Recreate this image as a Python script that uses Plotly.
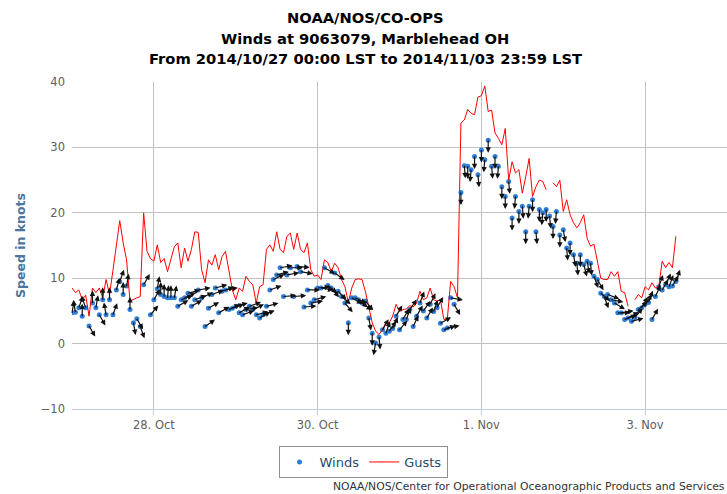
import math
import pandas as pd
import plotly.graph_objects as go

START = "2014-10-27 00:00"

gusts = [
    8.5, 7.8, 8.2, 6.7, 7.4, 4.2, 8.5, 7.8, 8.5, 7.0,
    9.8, 7.5, 11.2, 14.9, 18.8, 15.4, 12.8, 6.5, 6.8, 7.0,
    7.2, 20.0, 14.1, 13.0, 12.6, 15.1, 12.4, 13.0, 11.0, 13.0,
    14.8, 15.4, 11.6, 14.6, 12.6, 14.4, 17.1, 17.0, 11.3, 9.3,
    12.8, 12.0, 13.6, 11.3, 13.3, 14.1, 11.0, 8.2, 6.7, 8.5,
    8.0, 10.3, 9.5, 9.0, 6.2, 8.7, 9.0, 14.4, 15.1, 14.1,
    17.1, 14.4, 13.9, 16.4, 16.9, 14.4, 16.9, 14.4, 13.9, 15.4,
    11.3, 10.3, 10.5, 9.8, 12.8, 12.4, 11.0, 12.3, 11.6, 9.8,
    8.7, 6.3, 8.5, 9.8, 9.9, 9.8, 8.0, 5.7, 3.2, 1.9,
    1.4, 2.1, 3.2, 3.2, 4.2, 6.0, 4.9, 5.2, 5.3, 5.8,
    5.6, 6.2, 8.0, 6.7, 7.0, 8.5, 6.7, 6.5, 6.7, 3.7,
    3.7, 9.5, 8.7, 7.0, 33.7, 34.2, 35.8, 35.2, 35.0, 37.7,
    37.9, 39.4, 35.5, 35.7, 32.2, 31.4, 30.4, 32.9, 25.0, 27.8,
    26.1, 26.6, 23.0, 25.5, 28.3, 22.5, 24.0, 25.0, 24.8, 23.5,
    None, 24.6, 24.0, 25.0, 20.2, 22.0, 19.7, 18.5, 17.7, 18.5,
    19.7, 16.1, 14.9, 15.2, 12.8, 10.0, 9.8, 9.8, 11.0, 10.3,
    11.0, 8.0, 7.8, 5.7, None, 6.7, 7.5, 7.0, 8.7, 8.2,
    9.3, 8.5, 8.7, 12.6, 11.6, 12.4, 11.6, 16.4,
]

winds = [
    4.7, 4.8, 5.5, 4.2, 5.5, 2.7, 6.2, 5.5, 4.4, 6.7,
    4.4, 6.7, 4.4, 8.2, 9.5, 7.5, 8.8, 5.2, 3.2, 3.8,
    2.6, 9.0, None, 4.4, 6.7, 8.4, 7.5, 7.2, 7.0, 7.0,
    7.0, 5.7, 6.7, 7.0, 7.7, 5.7, 6.7, 8.2, 7.0, 2.6,
    5.4, 7.5, 8.5, 4.7, 8.0, 8.2, 5.2, 5.4, 5.7, 4.7,
    4.4, 5.2, 5.7, 5.2, 4.4, 3.9, 4.4, 5.7, 8.2, 9.8,
    10.5, 11.6, 7.2, 10.5, 11.6, 7.2, 11.8, 11.0, 5.6, 8.2,
    6.2, 6.7, 8.5, 8.5, 11.6, 8.9, 8.5, 10.8, 8.0, 7.2,
    6.2, 3.2, 7.0, 7.0, 6.7, 6.2, 6.5, 3.9, 1.6, 0.1,
    1.0, 2.1, 1.6, 1.9, 2.3, 4.2, 2.1, 3.7, 3.7, 5.2,
    2.6, 4.2, 6.2, 5.0, 3.9, 6.0, 4.9, 5.5, 3.1, 2.1,
    2.4, 7.0, 6.0, None, 23.1, 27.2, 27.1, 26.6, 28.6, 25.8,
    29.6, 28.1, 31.1, 27.1, 28.6, 27.1, 24.0, 22.5, 24.8, 19.2,
    22.5, 20.2, 21.0, 17.1, 21.0, 22.0, 17.1, 20.5, 20.0, 20.5,
    19.5, 17.9, 20.2, 16.6, 17.4, 14.6, 15.4, 13.6, 12.3, 13.6,
    12.1, 12.6, 12.3, 10.3, 9.8, 7.7, 7.2, 7.5, 6.7, 6.2,
    4.7, 4.7, 3.7, 3.9, 3.4, 4.0, 5.2, 5.5, 6.0, 6.3,
    3.7, 7.2, 8.7, 8.2, 9.0, 8.7, 8.8, 9.5,
]

# direction the wind blows toward, degrees clockwise from north
directions = [
    10, 350, 20, 0, 340, 150, 0, 10, 150, 0,
    350, 0, 20, 15, 20, 0, 10, 0, 170, 150,
    160, 30, None, 40, 30, 10, 0, 0, 5, 0,
    10, 60, 70, 65, 75, 60, 70, 80, 65, 55,
    60, 70, 75, 60, 70, 80, 65, 70, 75, 60,
    70, 80, 70, 65, 75, 60, 70, 75, 70, 65,
    75, 80, 85, 80, 90, 85, 95, 100, 85, 90,
    80, 75, 85, 100, 120, 130, 140, 125, 135, 130,
    140, 180, 120, 115, 130, 125, 140, 170, 180, 190,
    175, 30, 20, 35, 25, 30, 40, 30, 20, 35,
    25, 30, 20, 35, 30, 25, 20, 30, 60, 70,
    80, 100, 150, None, 180, 175, 180, 185, 180, 175,
    180, 185, 180, 175, 180, 185, 180, 180, 175, 180,
    185, 180, 175, 180, 185, 180, 175, 180, 185, 180,
    175, 180, 185, 180, 170, 175, 180, 170, 175, 180,
    165, 170, 175, 160, 150, 130, 160, 110, 100, 120,
    90, 80, 70, 60, 75, 40, 50, 30, 35, 20,
    30, 25, 20, 30, 25, 20, 30, 20,
]

times = pd.date_range(START, periods=len(winds), freq="h")

title_lines = [
    "NOAA/NOS/CO-OPS",
    "Winds at 9063079, Marblehead OH",
    "From 2014/10/27 00:00 LST to 2014/11/03 23:59 LST",
]
credit_text = "NOAA/NOS/Center for Operational Oceanographic Products and Services"

FONT = "DejaVu Sans, Verdana, sans-serif"

fig = go.Figure()
fig.add_trace(go.Scatter(
    x=times, y=winds, mode="markers", name="Winds",
    marker=dict(color="#2f7ed8", size=5),
))
fig.add_trace(go.Scatter(
    x=times, y=gusts, mode="lines", name="Gusts",
    line=dict(color="#ff0000", width=1), connectgaps=False,
))

annotations = []
L = 14
for t, w, d in zip(times, winds, directions):
    if w is None or d is None:
        continue
    r = math.radians(d)
    annotations.append(dict(
        x=t, y=w, xref="x", yref="y",
        ax=L * math.sin(r), ay=-L * math.cos(r),
        axref="pixel", ayref="pixel",
        text="", showarrow=True, arrowside="start",
        startarrowhead=2, startarrowsize=0.9, arrowhead=2, arrowsize=0.9,
        arrowwidth=1.2, arrowcolor="#111111",
    ))

title_y = [17, 38, 59]
for txt, py in zip(title_lines, title_y):
    annotations.append(dict(
        text="<b>" + txt + "</b>", xref="paper", yref="paper",
        x=(365 - 72) / 655, y=(409 - py) / 327, xanchor="center", yanchor="middle",
        showarrow=False, font=dict(family=FONT, size=14.7, color="#000000"),
    ))
annotations.append(dict(
    text=credit_text, xref="paper", yref="paper",
    x=1.0, y=(409 - 486) / 327, xanchor="right", yanchor="middle",
    showarrow=False, font=dict(family=FONT, size=10.8, color="#333333"),
))

fig.update_layout(
    width=727, height=494,
    margin=dict(l=72, r=0, t=82, b=85),
    paper_bgcolor="white", plot_bgcolor="white",
    font=dict(family=FONT, size=12, color="#606060"),
    showlegend=True,
    legend=dict(
        orientation="h", xref="container", yref="container",
        x=(363 / 727), y=1 - 462 / 494, xanchor="center", yanchor="middle",
        bordercolor="#909090", borderwidth=1, bgcolor="white",
        font=dict(family=FONT, size=13, color="#274b6d"),
        itemwidth=30,
    ),
    annotations=annotations,
    xaxis=dict(
        type="date",
        range=["2014-10-27 00:00", "2014-11-04 00:00"],
        tick0="2014-10-28", dtick=2 * 86400000, tickformat="%-d. %b",
        showgrid=True, gridcolor="#c0c0c0", gridwidth=1,
        showline=True, linecolor="#c0d0e0", linewidth=1,
        ticks="outside", ticklen=5, tickcolor="#c0d0e0",
        tickfont=dict(family=FONT, size=11.5, color="#606060"),
        zeroline=False,
    ),
    yaxis=dict(
        range=[-10, 40], tick0=-10, dtick=10,
        showgrid=True, gridcolor="#c0c0c0", gridwidth=1,
        zeroline=False, showline=False,
        ticklabelstandoff=6,
        tickfont=dict(family=FONT, size=11.5, color="#606060"),
        title=dict(text="<b>Speed in knots</b>", standoff=12,
                   font=dict(family=FONT, size=12.5, color="#4d759e")),
    ),
)

fig.write_html("out.html", config={"displayModeBar": False},
               post_script="document.body.style.margin='0';")
